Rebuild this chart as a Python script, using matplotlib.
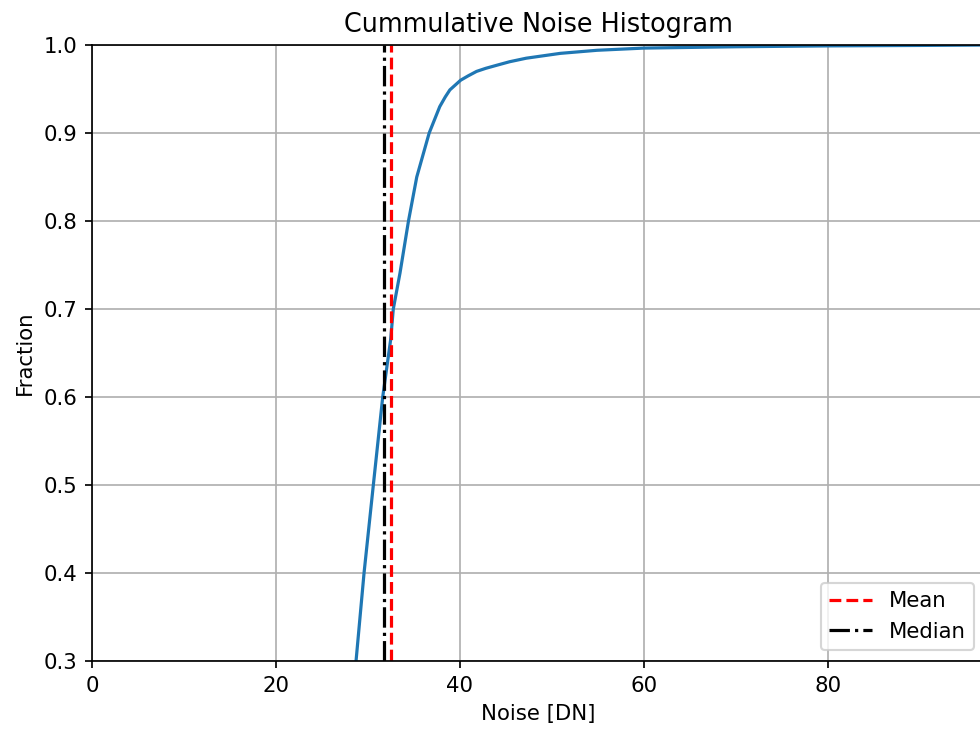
import matplotlib
matplotlib.use('Agg')
import matplotlib.pyplot as plt

# cumulative noise fraction
noise = [28.7, 29.57, 30.58, 31.6, 32.46, 32.75, 33.48, 34.4, 35.3, 36.65,
         37.8, 38.4, 38.9, 40.07, 40.9, 41.8, 42.8, 44.0, 45.4, 47.2, 50.9, 54.9,
         60.0, 70.0, 80.0, 90.0, 97.4]
fraction = [0.30, 0.40, 0.50, 0.60, 0.665, 0.70, 0.741, 0.80, 0.850, 0.90,
            0.930, 0.941, 0.949, 0.960, 0.965, 0.970, 0.9735, 0.977, 0.981, 0.985,
            0.9905, 0.994, 0.9965, 0.998, 0.999, 0.9995, 1.0]
noise_mean = 32.5
noise_median = 31.75

DPI = 153.2
fig = plt.figure(figsize=(980 / DPI, 736 / DPI), dpi=DPI)
ax = fig.add_axes([92 / 980, 75 / 736, (985 - 92) / 980, 616 / 736])

ax.plot(noise, fraction, color='tab:blue')
ax.axvline(noise_mean, color='red', ls='--', label='Mean')
ax.axvline(noise_median, color='black', ls='-.', label='Median')

ax.set_xlim(0, (985 - 92) / 9.2)
ax.set_ylim(0.3, 1.0)
ax.set_xticks([0, 20, 40, 60, 80])
ax.grid(True)
ax.set_title('Cummulative Noise Histogram')
ax.set_xlabel('Noise [DN]')
ax.set_ylabel('Fraction')
ax.legend(loc='lower right')

fig.savefig('out.png', dpi=DPI)
